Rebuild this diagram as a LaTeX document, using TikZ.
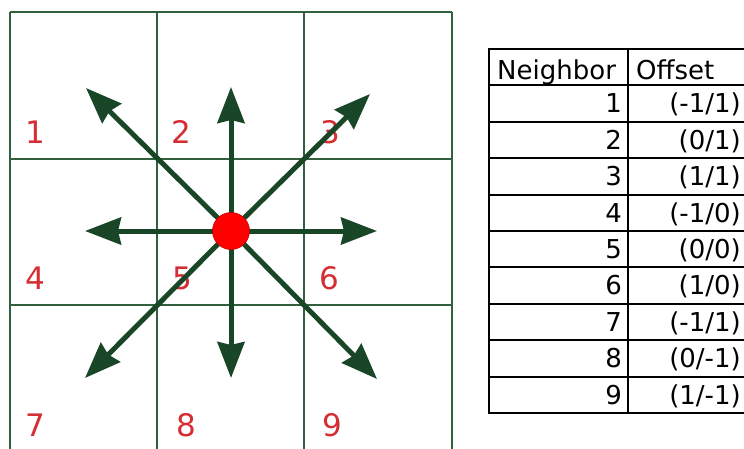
\documentclass[tikz,border=0pt]{standalone}
\usepackage{fontspec}
\usepackage{xcolor}
\usepackage{tikz}
\usetikzlibrary{arrows.meta,positioning}
\setmainfont{DejaVu Sans}
\definecolor{gridgreen}{RGB}{48,96,62}
\definecolor{arrowgreen}{RGB}{26,70,40}
\definecolor{labelred}{RGB}{212,45,50}

\begin{document}
\begin{tikzpicture}[x=1pt, y=-1pt,
    gridline/.style={draw=gridgreen, line width=2.4pt},
    dirarrow/.style={draw=arrowgreen, line width=5pt, -{Stealth[length=36pt, width=27pt, inset=3pt]}},
    celllabel/.style={font=\fontsize{31}{31}\selectfont, text=labelred, inner sep=0pt},
    tabletext/.style={font=\fontsize{26}{26}\selectfont, text=black, inner sep=0pt},
    tableline/.style={draw=black, line width=2pt}
]
    \useasboundingbox (0,0) rectangle (744,448);

    % 3x3 neighbourhood grid
    \foreach \gx in {10,157,304,452} {
        \draw[gridline] (\gx,12) -- (\gx,460);
    }
    \foreach \gy in {12,159,305,452} {
        \draw[gridline] (10,\gy) -- (452,\gy);
    }

    % Cell numbers
    \foreach \n/\lx/\ly in {1/35/132, 2/181/132, 3/330/132, 4/35/278, 5/182/278, 6/329/278, 7/35/425, 8/186/425, 9/332/425} {
        \node[celllabel] (lbl\n) at (\lx,\ly) {\n};
    }

    % Directions from the centre cell
    \coordinate (c) at (231,231);
    \coordinate (dirNW) at (86,88);
    \coordinate (dirN) at (231,87);
    \coordinate (dirNE) at (370,94);
    \coordinate (dirW) at (85,231);
    \coordinate (dirE) at (377,231);
    \coordinate (dirSW) at (85,378);
    \coordinate (dirS) at (231,378);
    \coordinate (dirSE) at (377,379);

    \foreach \d in {dirNW, dirN, dirNE, dirW, dirE, dirSW, dirS, dirSE} {
        \draw[dirarrow] (c) -- (\d);
    }

    \node[circle, fill=red, draw=red!75!black, line width=0.6pt, minimum size=37pt, inner sep=0pt] (hub) at (c) {};

    % Offset table
    \draw[tableline] (489,49) rectangle (750,413);
    \draw[tableline] (628,49) -- (628,413);
    \foreach \i in {1,...,9} {
        \draw[tableline] (489,{49+36.4*\i}) -- (750,{49+36.4*\i});
    }
    \node[tabletext, anchor=base west] (hdnb) at (497,79.5) {Neighbor};
    \node[tabletext, anchor=base west] (hdoff) at (636,79.5) {Offset};

    \foreach \off [count=\n] in {{(-1/1)},{(0/1)},{(1/1)},{(-1/0)},{(0/0)},{(1/0)},{(-1/1)},{(0/-1)},{(1/-1)}} {
        \node[tabletext, anchor=base east] (nb\n) at (622,{49+36.4*(\n+1)-9}) {\n};
        \node[tabletext, anchor=base east] (off\n) at (741,{49+36.4*(\n+1)-9}) {\off};
    }

\end{tikzpicture}
\end{document}
